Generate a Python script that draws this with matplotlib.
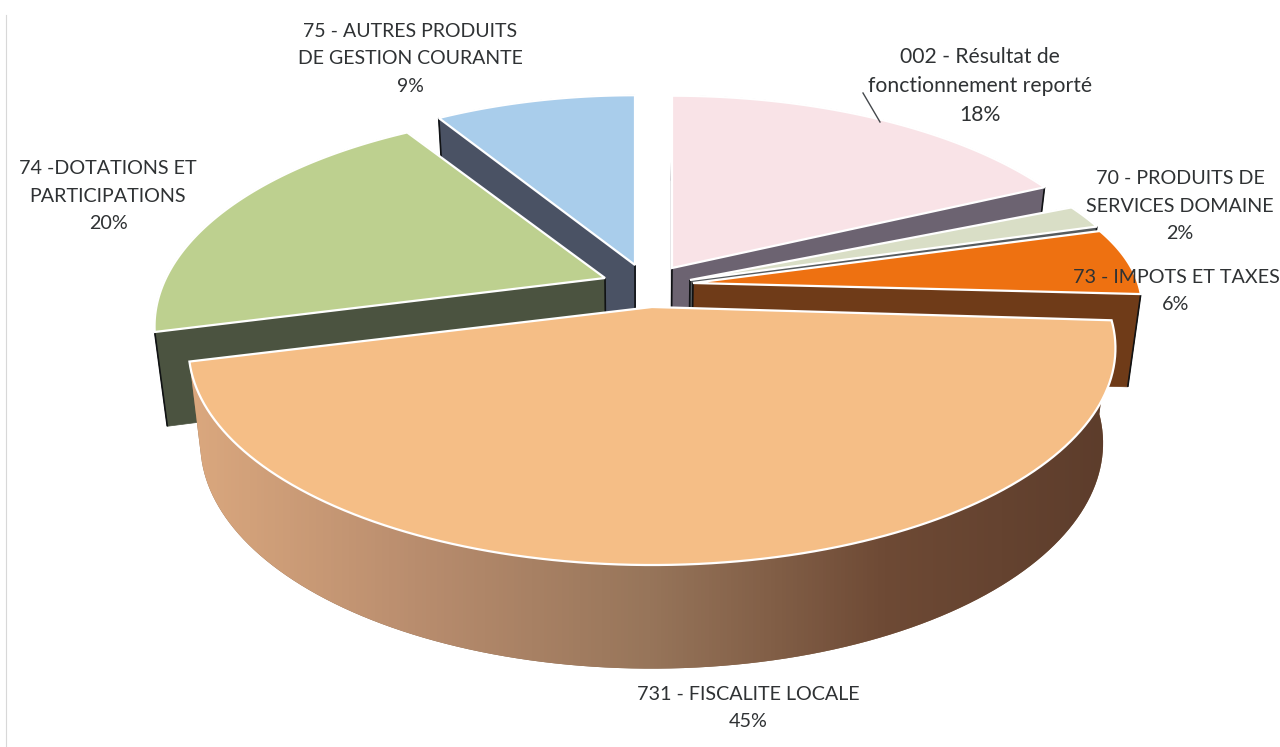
# Exploded 3D pie - budget de fonctionnement, recettes par chapitre
import numpy as np
import matplotlib
matplotlib.use("Agg")
import matplotlib.pyplot as plt
from matplotlib.patches import Polygon
from matplotlib.colors import LinearSegmentedColormap

plt.rcParams['font.family'] = ['Lato', 'DejaVu Sans']

# data, clockwise from 12 o'clock
labels = ["002 - Résultat de\nfonctionnement reporté",
          "70 - PRODUITS DE\nSERVICES DOMAINE",
          "73 - IMPOTS ET TAXES",
          "731 - FISCALITE LOCALE",
          "74 -DOTATIONS ET\nPARTICIPATIONS",
          "75 - AUTRES PRODUITS\nDE GESTION COURANTE"]
shares = [18, 2, 6, 45, 20, 9]

# look of each slice
top_colors = ["#F9E3E7", "#D9DEC6", "#EE7111", "#F5BE86", "#BDD08F", "#A9CDEB"]
wall_colors = ["#6C6371", "#565B5E", "#6F3B18", "#8A6A50", "#4B5340", "#4A5264"]
apex_x = [672, 690, 693, 652, 605, 635]
apex_y = [268, 280, 283, 307, 278, 265]
rad_x = [445, 445, 445, 455, 439, 425]
rad_y = [205, 180, 175, 209, 205, 202]
tilts = [0.19, 0.13, 0.13, 0.19, 0.224, 0.19]
label_x = [980, 1180, 1176, 748, 108, 410]
label_y = [86, 206, 291, 708, 196, 59]
label_size = [15.2, 14.2, 14.2, 14.2, 14.2, 14.0]
draw_order = [5, 4, 0, 1, 2, 3]


def rim(i, t):
    # points on the slice rim, t in radians clockwise from top, seen in perspective
    w = 1 + tilts[i] * np.cos(t)
    return (apex_x[i] + rad_x[i] * np.sin(t) / w,
            apex_y[i] - rad_y[i] * np.cos(t) / w)


def drop(x, y):
    # bottom face of the pie for a point of the top face
    return 640 + (x - 640) * 0.974, y + 95 + (y - 350) * 0.04


def quad(x, y):
    bx, by = drop(x, y)
    return np.column_stack([np.r_[x, bx[::-1]], np.r_[y, by[::-1]]])


fig = plt.figure(figsize=(12.8, 7.47), dpi=100)
ax = fig.add_axes([0, 0, 1, 1])

edges = np.radians(np.r_[0, np.cumsum(shares)] * 3.6)
wall_cmap = LinearSegmentedColormap.from_list(
    "wall", ["#DCA97F", "#B98D6E", "#97755A", "#6E4A35", "#5C3C2B"])

for n, i in enumerate(draw_order):
    t = np.linspace(edges[i], edges[i + 1], 120)
    x, y = rim(i, t)
    ex0, ey0 = rim(i, edges[i])
    ex1, ey1 = rim(i, edges[i + 1])

    # outer wall
    outer = Polygon(quad(x, y), closed=True, zorder=2 + n,
                    fc=wall_colors[i], ec=wall_colors[i], lw=0.5)
    ax.add_patch(outer)
    if i == 3:
        outer.set_edgecolor("none")
        im = ax.imshow(np.linspace(0, 1, 256).reshape(1, -1), cmap=wall_cmap,
                       extent=[180, 1120, 747, 0], aspect="auto", zorder=2 + n)
        im.set_clip_path(outer)

    # cut faces and their dark vertical edges, big slice shows none of them
    if i != 3:
        for ex, ey in [(ex0, ey0), (ex1, ey1)]:
            face = quad(np.array([apex_x[i], ex]), np.array([apex_y[i], ey]))
            ax.add_patch(Polygon(face, closed=True, fc=wall_colors[i],
                                 ec=wall_colors[i], lw=0.5, zorder=2.1 + n))
        corners = [(ex1, ey1), (apex_x[i], apex_y[i])]
        if i > 2:
            corners.append((ex0, ey0))
        for px, py in corners:
            bx, by = drop(px, py)
            ax.plot([px, bx], [py, by], color="#101214", lw=1.2,
                    solid_capstyle="butt", zorder=2.2 + n)

    # top face
    top = np.column_stack([np.r_[apex_x[i], x], np.r_[apex_y[i], y]])
    ax.add_patch(Polygon(top, closed=True, fc=top_colors[i], ec="white", lw=1.6,
                         joinstyle="miter", zorder=2.5 + n))

ax.set_xlim(0, 1280)
ax.set_ylim(747, 0)
ax.axis("off")

# leader of the first label
ax.plot([863, 880], [93, 122], color="#44484C", lw=1.0, zorder=20)

for i in range(len(labels)):
    ax.text(label_x[i], label_y[i], labels[i] + "\n%d%%" % shares[i],
            ha="center", va="center", fontsize=label_size[i], color="#2F3234",
            linespacing=1.75 if i else 1.55, zorder=30)

# scan trace along the left margin
ax.plot([6, 6], [15, 747], color="#D8D8D8", lw=0.8, zorder=1)

fig.savefig("out.png", dpi=100, facecolor="white")
